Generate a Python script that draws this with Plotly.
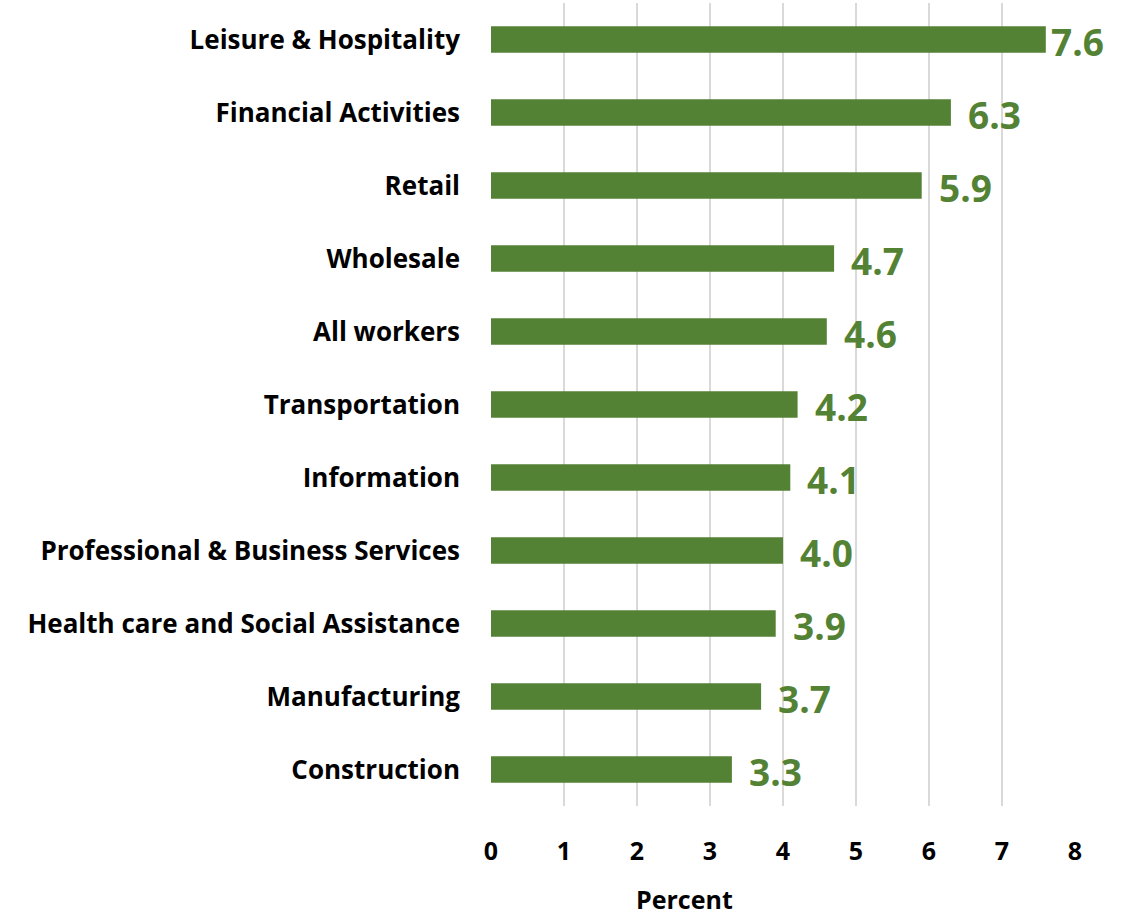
import plotly.graph_objects as go

categories = ["Leisure & Hospitality", "Financial Activities", "Retail", "Wholesale",
              "All workers", "Transportation", "Information",
              "Professional & Business Services", "Health care and Social Assistance",
              "Manufacturing", "Construction"]
values = [7.6, 6.3, 5.9, 4.7, 4.6, 4.2, 4.1, 4.0, 3.9, 3.7, 3.3]
tick_vals = [0, 1, 2, 3, 4, 5, 6, 7, 8]

green = "#548235"
font = "Open Sans"

fig = go.Figure()
fig.add_trace(go.Bar(
    x=values, y=categories, orientation="h",
    marker=dict(color=green, line=dict(width=0)),
    width=0.36,
))

for c, v in zip(categories, values):
    fig.add_annotation(
        x=v, y=c, text=f"{v:.1f}", showarrow=False,
        xanchor="left", yanchor="middle",
        xshift=3 if v >= 7.5 else 15, yshift=-2,
        font=dict(family=font, size=37, color=green, weight="bold"),
    )

fig.add_annotation(
    x=0.332, y=-0.1155, xref="paper", yref="paper", text="<b>Percent</b>",
    showarrow=False, xanchor="center", yanchor="middle",
    font=dict(family=font, size=25, color="#000000"),
)

fig.update_layout(
    width=1134, height=917,
    margin=dict(l=491, r=59, t=3, b=111),
    paper_bgcolor="white", plot_bgcolor="white",
    showlegend=False,
    bargap=0.64,
    font=dict(family=font, color="#000000"),
)
fig.update_xaxes(
    range=[0, 8], tickvals=tick_vals, ticktext=[f"<b>{t}</b>" for t in tick_vals],
    showgrid=True, gridcolor="#d9d9d9", gridwidth=2, zeroline=False,
    showline=False, ticks="", tickfont=dict(size=25, family=font),
    ticklabelstandoff=28,
)
fig.update_yaxes(
    autorange="reversed", showgrid=False, zeroline=False, showline=False,
    tickvals=categories, ticktext=[f"<b>{c}</b>" for c in categories],
    tickfont=dict(size=26, family=font), ticks="", ticklabelstandoff=30,
)

fig.write_html("out.html", config={"displayModeBar": False},
               post_script="document.body.style.margin='0';")
